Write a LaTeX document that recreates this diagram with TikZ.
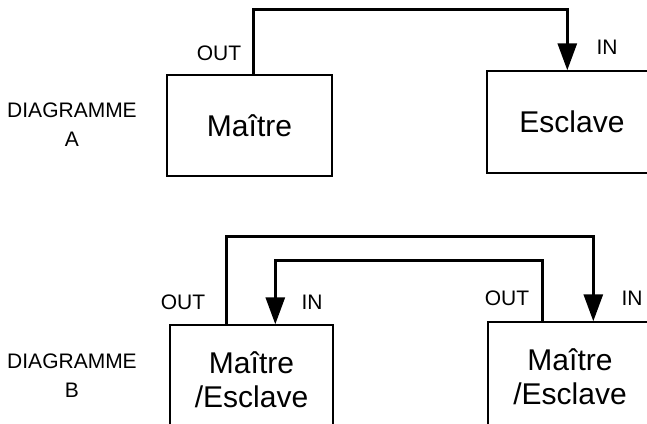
\documentclass[tikz,border=0pt]{standalone}
\usepackage{fontspec}
\setmainfont{Liberation Sans}
\usetikzlibrary{arrows.meta}
\begin{document}
\begin{tikzpicture}[x=1pt,y=-1pt,
  box/.style={draw,line width=1.4pt,rectangle,inner sep=0pt,align=center,font=\fontsize{30}{34}\selectfont},
  conn/.style={line width=3pt,-{Triangle[length=27pt,width=19pt]}},
  lbl/.style={font=\fontsize{21}{24}\selectfont,inner sep=0pt},
  side/.style={font=\fontsize{21}{29}\selectfont,align=center,inner sep=0pt}]
\useasboundingbox (0,0) rectangle (647,423);
% Diagram A
\node[box,minimum width=165pt,minimum height=101pt] (mA) at (249.5,125.5) {Maître};
\node[box,minimum width=170pt,minimum height=102pt] (eA) at (572,122) {Esclave};
\draw[conn] ([xshift=87pt]mA.north west) -- ++(0,-65) coordinate (tA) -| ([xshift=81pt]eA.north west);
\node[lbl] (outA) at (219,53) {OUT};
\node[lbl] (inA) at (607,47) {IN};
\node[side] (dA) at (72,125) {DIAGRAMME\\A};
% Diagram B
\node[box,minimum width=163pt,minimum height=110pt] (mB1) at (251.5,380) {Maître\\/Esclave};
\node[box,minimum width=164pt,minimum height=110pt] (mB2) at (570,377) {Maître\\/Esclave};
\draw[conn] ([xshift=57pt]mB1.north west) -- ++(0,-88) coordinate (tB1) -| ([xshift=106pt]mB2.north west);
\draw[conn] ([xshift=55pt]mB2.north west) -- ++(0,-61) coordinate (tB2) -| ([xshift=106pt]mB1.north west);
\node[lbl] (outB1) at (183,302) {OUT};
\node[lbl] (inB1) at (312,302) {IN};
\node[lbl] (outB2) at (507,298) {OUT};
\node[lbl] (inB2) at (632,298) {IN};
\node[side] (dB) at (72,376) {DIAGRAMME\\B};
\end{tikzpicture}
\end{document}
